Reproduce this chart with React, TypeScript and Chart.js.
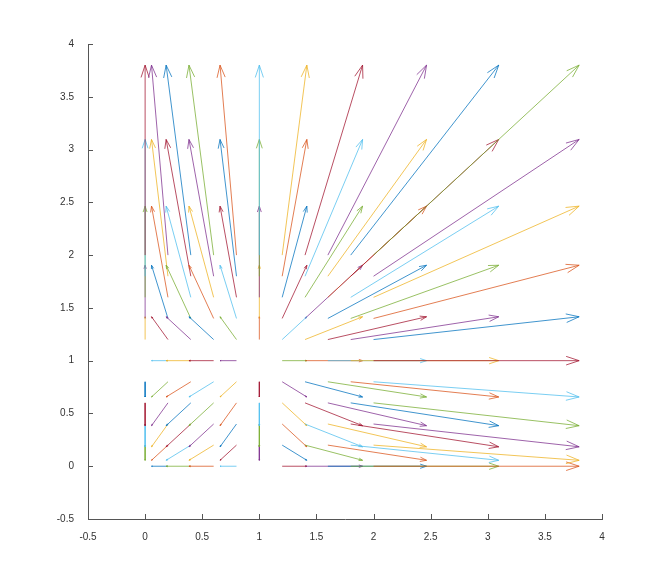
import React, { useEffect, useRef } from "react";
import { Chart, registerables } from "chart.js";

Chart.register(...registerables);

// Grid of arrow start positions
const X_GRID = [0, 0.2, 0.4, 0.6, 0.8, 1, 1.2, 1.4, 1.6, 1.8, 2];
const Y_GRID = [0, 0.2, 0.4, 0.6, 0.8, 1, 1.2, 1.4, 1.6, 1.8, 2];
// Arrow tip positions (per column / per row)
const X_TIPS = [0, 0.056, 0.184, 0.384, 0.656, 1, 1.416, 1.904, 2.464, 3.096, 3.8];
const Y_TIPS = [0, 0.056, 0.184, 0.384, 0.656, 1, 1.416, 1.904, 2.464, 3.096, 3.8];

const TICKS = [-0.5, 0, 0.5, 1, 1.5, 2, 2.5, 3, 3.5, 4];
const TICK_LABELS = ["-0.5", "0", "0.5", "1", "1.5", "2", "2.5", "3", "3.5", "4"];

const COLORS = ["#0072BD", "#D95319", "#EDB120", "#7E2F8E", "#77AC30", "#4DBEEE", "#A2142F"];
const AXIS_COLOR = "#555555";
const TEXT_COLOR = "#333333";
const LINE_W = 0.75;

export default function App() {
  const ref = useRef<HTMLCanvasElement | null>(null);

  useEffect(() => {
    if (!ref.current) return;
    const datasets: any[] = [];
    for (let i = 0; i < X_GRID.length; i++) {
      for (let j = 0; j < Y_GRID.length; j++) {
        const idx = i * Y_GRID.length + j;
        datasets.push({
          data: [
            { x: X_GRID[i], y: Y_GRID[j] },
            { x: X_TIPS[i], y: Y_TIPS[j] },
          ],
          borderColor: COLORS[(idx + 3) % 7],
          borderWidth: LINE_W,
          showLine: true,
          pointRadius: 0,
          pointHoverRadius: 0,
          order: -idx,
          clip: false,
        });
      }
    }

    const headPlugin = {
      id: "arrowHeads",
      afterDatasetDraw(chart: any, args: any) {
        const meta = args.meta;
        const p0 = meta.data[0];
        const p1 = meta.data[1];
        if (!p0 || !p1) return;
        const dx = p1.x - p0.x;
        const dy = p1.y - p0.y;
        const len = Math.hypot(dx, dy);
        if (len < 0.5) return;
        const h = Math.min(0.065 * len, 13);
        const ux = dx / len;
        const uy = dy / len;
        const w = 0.33 * h;
        const ctx = chart.ctx;
        ctx.save();
        ctx.strokeStyle = chart.data.datasets[args.index].borderColor;
        ctx.lineWidth = LINE_W;
        ctx.beginPath();
        ctx.moveTo(p1.x - h * ux - w * uy, p1.y - h * uy + w * ux);
        ctx.lineTo(p1.x, p1.y);
        ctx.lineTo(p1.x - h * ux + w * uy, p1.y - h * uy - w * ux);
        ctx.stroke();
        ctx.restore();
      },
    };

    const tickPlugin = {
      id: "inwardTicks",
      afterDraw(chart: any) {
        const ctx = chart.ctx;
        const xs = chart.scales.x;
        const ys = chart.scales.y;
        const a = chart.chartArea;
        ctx.save();
        ctx.strokeStyle = AXIS_COLOR;
        ctx.lineWidth = 1;
        ctx.beginPath();
        for (const v of TICKS) {
          const px = Math.round(xs.getPixelForValue(v)) + 0.5;
          ctx.moveTo(px, a.bottom);
          ctx.lineTo(px, a.bottom - 5);
          const py = Math.round(ys.getPixelForValue(v)) + 0.5;
          ctx.moveTo(a.left, py);
          ctx.lineTo(a.left + 5, py);
        }
        ctx.stroke();
        ctx.restore();
      },
    };

    const chart = new Chart(ref.current, {
      type: "scatter",
      data: { datasets },
      options: {
        animation: false,
        responsive: false,
        events: [],
        layout: { padding: { left: 0, top: 44, right: 64, bottom: 0 } },
        plugins: { legend: { display: false }, tooltip: { enabled: false } },
        scales: {
          x: {
            type: "linear",
            min: -0.5,
            max: 4,
            afterBuildTicks: (s: any) => {
              s.ticks = TICKS.map((v) => ({ value: v }));
            },
            afterFit: (s: any) => {
              s.height = 64;
            },
            grid: { display: false },
            border: { display: true, color: AXIS_COLOR, width: 1 },
            ticks: {
              padding: 4,
              color: TEXT_COLOR,
              font: { family: "Liberation Sans", size: 10 },
              maxRotation: 0,
              autoSkip: false,
              callback: (v: any) => TICK_LABELS[TICKS.indexOf(Number(v))] ?? String(v),
            },
          },
          y: {
            type: "linear",
            min: -0.5,
            max: 4,
            afterBuildTicks: (s: any) => {
              s.ticks = TICKS.map((v) => ({ value: v }));
            },
            afterFit: (s: any) => {
              s.width = 88;
            },
            grid: { display: false },
            border: { display: true, color: AXIS_COLOR, width: 1 },
            ticks: {
              padding: 6,
              color: TEXT_COLOR,
              font: { family: "Liberation Sans", size: 10 },
              autoSkip: false,
              callback: (v: any) => TICK_LABELS[TICKS.indexOf(Number(v))] ?? String(v),
            },
          },
        },
      },
      plugins: [headPlugin, tickPlugin],
    });
    return () => chart.destroy();
  }, []);

  return (
    <div style={{ position: "absolute", left: 0, top: 0, width: 666, height: 583, background: "#fff" }}>
      <canvas ref={ref} width={666} height={583} style={{ display: "block" }} />
    </div>
  );
}
